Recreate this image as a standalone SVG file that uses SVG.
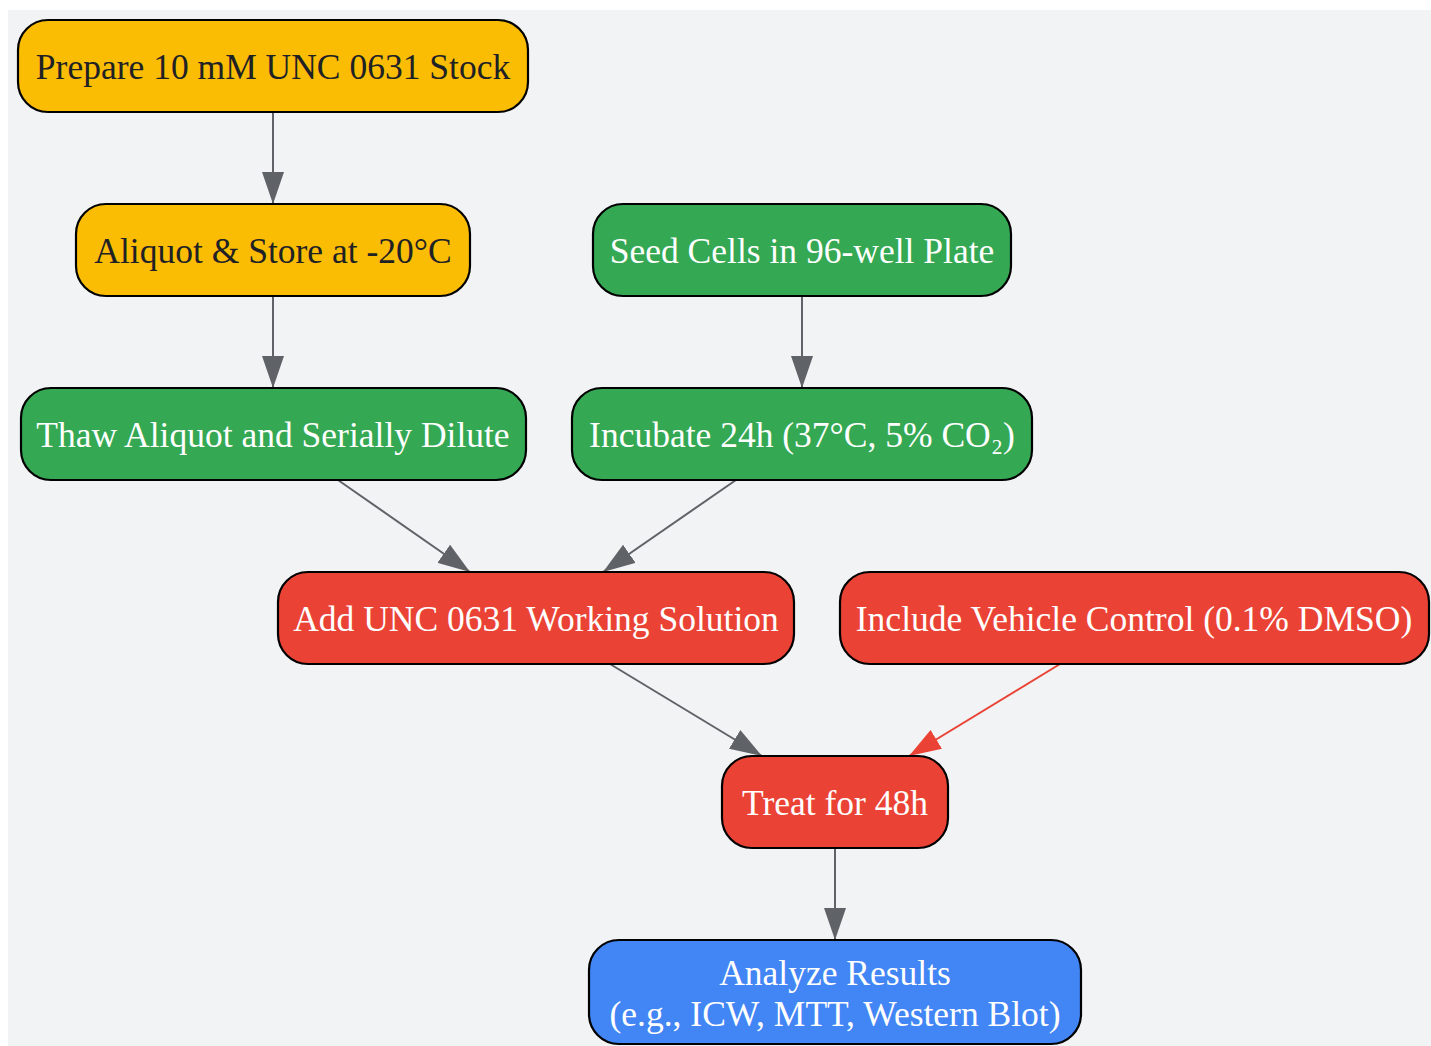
<svg xmlns="http://www.w3.org/2000/svg" width="1431" height="1046" viewBox="0 0 1431 1046">
<style>
.n{stroke:#000;stroke-width:2.2}
.t{font-family:"Liberation Serif","Times New Roman",serif;font-size:35.5px;text-anchor:middle}
.dk{fill:#202124}
.wt{fill:#fff}
.e{fill:none;stroke:#5F6368;stroke-width:2}
.er{fill:none;stroke:#EA4335;stroke-width:2}
</style>
<defs>
<marker id="ag" markerUnits="userSpaceOnUse" markerWidth="32" markerHeight="22" refX="32" refY="11" orient="auto"><path d="M0,0 L32,11 L0,22 Z" fill="#5F6368"/></marker>
<marker id="ar" markerUnits="userSpaceOnUse" markerWidth="32" markerHeight="22" refX="32" refY="11" orient="auto"><path d="M0,0 L32,11 L0,22 Z" fill="#EA4335"/></marker>
</defs>
<rect x="8" y="10" width="1423" height="1036" fill="#F1F3F4"/>
<g id="edges">
<path class="e" d="M273,112 L273,204" marker-end="url(#ag)"/>
<path class="e" d="M273,296 L273,388" marker-end="url(#ag)"/>
<path class="e" d="M802,296 L802,388" marker-end="url(#ag)"/>
<path class="e" d="M338,480 L470,572" marker-end="url(#ag)"/>
<path class="e" d="M736,480 L603,572" marker-end="url(#ag)"/>
<path class="e" d="M610,664 L762,756" marker-end="url(#ag)"/>
<path class="er" d="M1060,664 L909,756" marker-end="url(#ar)"/>
<path class="e" d="M835,848 L835,940" marker-end="url(#ag)"/>
</g>
<g id="n1"><rect class="n" x="18" y="20" width="510" height="92" rx="30" fill="#FBBC04"/><text class="t dk" x="273" y="79">Prepare 10 mM UNC 0631 Stock</text></g>
<g id="n2"><rect class="n" x="76" y="204" width="394" height="92" rx="30" fill="#FBBC04"/><text class="t dk" x="273" y="263">Aliquot &amp; Store at -20°C</text></g>
<g id="n3"><rect class="n" x="593" y="204" width="418" height="92" rx="30" fill="#34A853"/><text class="t wt" x="802" y="263">Seed Cells in 96-well Plate</text></g>
<g id="n4"><rect class="n" x="21" y="388" width="505" height="92" rx="30" fill="#34A853"/><text class="t wt" x="273" y="447">Thaw Aliquot and Serially Dilute</text></g>
<g id="n5"><rect class="n" x="572" y="388" width="460" height="92" rx="30" fill="#34A853"/><text class="t wt" x="802" y="447">Incubate 24h (37°C, 5% CO₂)</text></g>
<g id="n6"><rect class="n" x="278" y="572" width="516" height="92" rx="30" fill="#EA4335"/><text class="t wt" x="536" y="631">Add UNC 0631 Working Solution</text></g>
<g id="n7"><rect class="n" x="840" y="572" width="589" height="92" rx="30" fill="#EA4335"/><text class="t wt" x="1134" y="631">Include Vehicle Control (0.1% DMSO)</text></g>
<g id="n8"><rect class="n" x="722" y="756" width="226" height="92" rx="30" fill="#EA4335"/><text class="t wt" x="835" y="815">Treat for 48h</text></g>
<g id="n9"><rect class="n" x="589" y="940" width="492" height="104" rx="30" fill="#4285F4"/><text class="t wt" x="835" y="985">Analyze Results</text><text class="t wt" x="835" y="1026">(e.g., ICW, MTT, Western Blot)</text></g>
</svg>
